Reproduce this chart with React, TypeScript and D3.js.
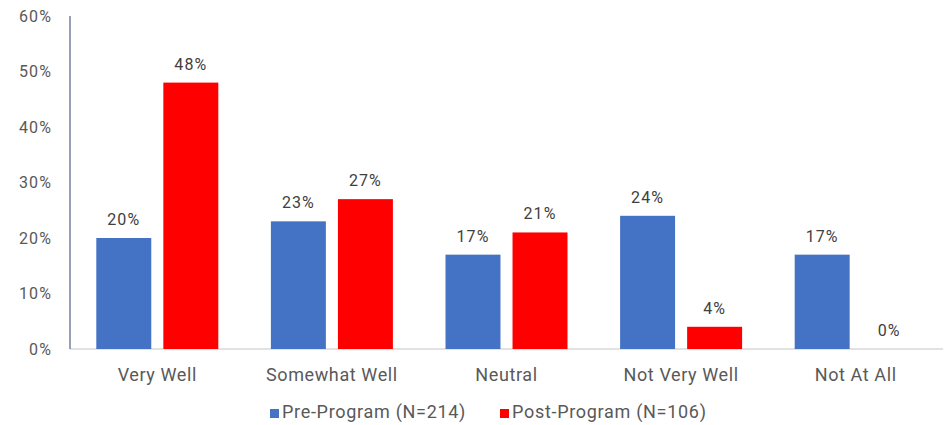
import React from "react";
import * as d3 from "d3";

const categories = ["Very Well", "Somewhat Well", "Neutral", "Not Very Well", "Not At All"];
const seriesNames = ["Pre-Program (N=214)", "Post-Program (N=106)"];
const preValues = [20, 23, 17, 24, 17];
const postValues = [48, 27, 21, 4, 0];
const yTicks = [0, 10, 20, 30, 40, 50, 60];
const colors = ["#4472C4", "#FF0000"];

export default function App() {
  const W = 946, H = 425;
  const left = 70, right = 943, top = 16, bottom = 349;
  const x = d3.scaleBand<string>().domain(categories).range([left, right]).paddingInner(0).paddingOuter(0);
  const y = d3.scaleLinear().domain([0, 60]).range([bottom, top]);
  const inner = d3.scaleBand<number>().domain([0, 1]).range([0, 122]).paddingInner(0.18);
  const series = [preValues, postValues];
  const font = "Roboto, 'Open Sans', sans-serif";
  return (
    <svg width={W} height={H} style={{ position: "absolute", left: 0, top: 0 }} fontFamily={font}>
      <rect width={W} height={H} fill="#fff" />
      {yTicks.map((t) => (
        <text key={t} x={52} y={y(t)} dy="0.35em" textAnchor="end" fontSize={16} letterSpacing={1.1} fill="#595959">
          {t}%
        </text>
      ))}
      <line x1={left} x2={right} y1={bottom} y2={bottom} stroke="#d9d9d9" strokeWidth={1.5} />
      <line x1={left} x2={left} y1={top} y2={bottom} stroke="#7a7f9e" strokeWidth={1.5} />
      {categories.map((c, i) => {
        const cx = (x(c) as number) + x.bandwidth() / 2;
        const start = cx - 61;
        return (
          <g key={c}>
            {series.map((s, si) => {
              const bx = start + (inner(si) as number);
              const bw = inner.bandwidth();
              const v = s[i];
              return (
                <g key={si}>
                  {v > 0 && (
                    <rect x={bx} y={y(v)} width={bw} height={bottom - y(v)} fill={colors[si]} />
                  )}
                  <text x={bx + bw / 2} y={y(v) - 13} textAnchor="middle" fontSize={16} letterSpacing={1.1} fill="#404040">
                    {v}%
                  </text>
                </g>
              );
            })}
            <text x={cx} y={381} textAnchor="middle" fontSize={18} letterSpacing={0.6} fill="#595959">
              {c}
            </text>
          </g>
        );
      })}
      {seriesNames.map((n, i) => {
        const lx = [270, 500][i];
        return (
          <g key={n}>
            <rect x={lx} y={409} width={9} height={9} fill={colors[i]} />
            <text x={lx + 12} y={418} fontSize={18} letterSpacing={0.7} fill="#595959">
              {n}
            </text>
          </g>
        );
      })}
    </svg>
  );
}
